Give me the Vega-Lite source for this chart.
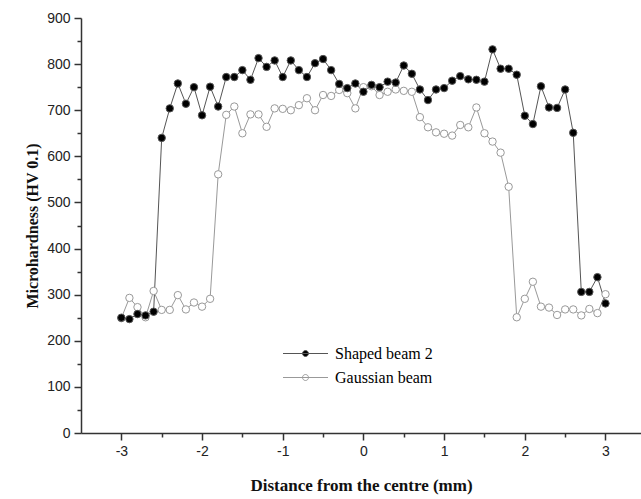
{
  "$schema": "https://vega.github.io/schema/vega-lite/v6.json",
  "width": 560,
  "height": 415,
  "autosize": "none",
  "padding": {"left": 81, "top": 18, "right": 0, "bottom": 66},
  "background": "white",
  "config": {
    "view": {"stroke": null},
    "axis": {
      "grid": false,
      "domainColor": "#333333",
      "domainWidth": 1.5,
      "tickColor": "#333333",
      "tickWidth": 1.5,
      "labelFont": "Liberation Sans",
      "labelFontSize": 14,
      "labelColor": "#222222",
      "titleFont": "Liberation Serif",
      "titleFontWeight": "bold",
      "titleColor": "#111111"
    },
    "legend": {
      "orient": "none",
      "legendX": 214,
      "legendY": 325,
      "padding": 0,
      "symbolType": "M-2.25,0L2.25,0M0.3,0A0.3,0.3,0,1,1,-0.3,0A0.3,0.3,0,1,1,0.3,0Z",
      "symbolSize": 400,
      "symbolStrokeWidth": 1,
      "labelFont": "Liberation Serif",
      "labelFontSize": 16,
      "labelColor": "#000000",
      "labelOffset": 19,
      "rowPadding": 5
    }
  },
  "data": {
    "values": [
      {"series": "Gaussian beam", "x": -3.0, "hv": 249},
      {"series": "Gaussian beam", "x": -2.9, "hv": 293},
      {"series": "Gaussian beam", "x": -2.8, "hv": 273},
      {"series": "Gaussian beam", "x": -2.7, "hv": 251},
      {"series": "Gaussian beam", "x": -2.6, "hv": 308},
      {"series": "Gaussian beam", "x": -2.5, "hv": 267},
      {"series": "Gaussian beam", "x": -2.4, "hv": 267},
      {"series": "Gaussian beam", "x": -2.3, "hv": 299},
      {"series": "Gaussian beam", "x": -2.2, "hv": 268},
      {"series": "Gaussian beam", "x": -2.1, "hv": 283},
      {"series": "Gaussian beam", "x": -2.0, "hv": 274},
      {"series": "Gaussian beam", "x": -1.9, "hv": 291},
      {"series": "Gaussian beam", "x": -1.8, "hv": 561},
      {"series": "Gaussian beam", "x": -1.7, "hv": 690},
      {"series": "Gaussian beam", "x": -1.6, "hv": 708},
      {"series": "Gaussian beam", "x": -1.5, "hv": 650},
      {"series": "Gaussian beam", "x": -1.4, "hv": 691},
      {"series": "Gaussian beam", "x": -1.3, "hv": 691},
      {"series": "Gaussian beam", "x": -1.2, "hv": 664},
      {"series": "Gaussian beam", "x": -1.1, "hv": 704},
      {"series": "Gaussian beam", "x": -1.0, "hv": 703},
      {"series": "Gaussian beam", "x": -0.9, "hv": 700},
      {"series": "Gaussian beam", "x": -0.8, "hv": 711},
      {"series": "Gaussian beam", "x": -0.7, "hv": 726},
      {"series": "Gaussian beam", "x": -0.6, "hv": 700},
      {"series": "Gaussian beam", "x": -0.5, "hv": 733},
      {"series": "Gaussian beam", "x": -0.4, "hv": 731},
      {"series": "Gaussian beam", "x": -0.3, "hv": 744},
      {"series": "Gaussian beam", "x": -0.2, "hv": 737},
      {"series": "Gaussian beam", "x": -0.1, "hv": 704},
      {"series": "Gaussian beam", "x": 0.0, "hv": 750},
      {"series": "Gaussian beam", "x": 0.1, "hv": 752},
      {"series": "Gaussian beam", "x": 0.2, "hv": 733},
      {"series": "Gaussian beam", "x": 0.3, "hv": 740},
      {"series": "Gaussian beam", "x": 0.4, "hv": 745},
      {"series": "Gaussian beam", "x": 0.5, "hv": 742},
      {"series": "Gaussian beam", "x": 0.6, "hv": 740},
      {"series": "Gaussian beam", "x": 0.7, "hv": 685},
      {"series": "Gaussian beam", "x": 0.8, "hv": 663},
      {"series": "Gaussian beam", "x": 0.9, "hv": 652},
      {"series": "Gaussian beam", "x": 1.0, "hv": 649},
      {"series": "Gaussian beam", "x": 1.1, "hv": 645},
      {"series": "Gaussian beam", "x": 1.2, "hv": 668},
      {"series": "Gaussian beam", "x": 1.3, "hv": 663},
      {"series": "Gaussian beam", "x": 1.4, "hv": 706},
      {"series": "Gaussian beam", "x": 1.5, "hv": 650},
      {"series": "Gaussian beam", "x": 1.6, "hv": 632},
      {"series": "Gaussian beam", "x": 1.7, "hv": 608},
      {"series": "Gaussian beam", "x": 1.8, "hv": 534},
      {"series": "Gaussian beam", "x": 1.9, "hv": 251},
      {"series": "Gaussian beam", "x": 2.0, "hv": 291},
      {"series": "Gaussian beam", "x": 2.1, "hv": 328},
      {"series": "Gaussian beam", "x": 2.2, "hv": 274},
      {"series": "Gaussian beam", "x": 2.3, "hv": 272},
      {"series": "Gaussian beam", "x": 2.4, "hv": 256},
      {"series": "Gaussian beam", "x": 2.5, "hv": 268},
      {"series": "Gaussian beam", "x": 2.6, "hv": 268},
      {"series": "Gaussian beam", "x": 2.7, "hv": 255},
      {"series": "Gaussian beam", "x": 2.8, "hv": 269},
      {"series": "Gaussian beam", "x": 2.9, "hv": 260},
      {"series": "Gaussian beam", "x": 3.0, "hv": 301},
      {"series": "Shaped beam 2", "x": -3.0, "hv": 250},
      {"series": "Shaped beam 2", "x": -2.9, "hv": 247},
      {"series": "Shaped beam 2", "x": -2.8, "hv": 258},
      {"series": "Shaped beam 2", "x": -2.7, "hv": 255},
      {"series": "Shaped beam 2", "x": -2.6, "hv": 263},
      {"series": "Shaped beam 2", "x": -2.5, "hv": 640},
      {"series": "Shaped beam 2", "x": -2.4, "hv": 704},
      {"series": "Shaped beam 2", "x": -2.3, "hv": 758},
      {"series": "Shaped beam 2", "x": -2.2, "hv": 714},
      {"series": "Shaped beam 2", "x": -2.1, "hv": 750},
      {"series": "Shaped beam 2", "x": -2.0, "hv": 689},
      {"series": "Shaped beam 2", "x": -1.9, "hv": 751},
      {"series": "Shaped beam 2", "x": -1.8, "hv": 708},
      {"series": "Shaped beam 2", "x": -1.7, "hv": 772},
      {"series": "Shaped beam 2", "x": -1.6, "hv": 772},
      {"series": "Shaped beam 2", "x": -1.5, "hv": 787},
      {"series": "Shaped beam 2", "x": -1.4, "hv": 766},
      {"series": "Shaped beam 2", "x": -1.3, "hv": 813},
      {"series": "Shaped beam 2", "x": -1.2, "hv": 794},
      {"series": "Shaped beam 2", "x": -1.1, "hv": 808},
      {"series": "Shaped beam 2", "x": -1.0, "hv": 772},
      {"series": "Shaped beam 2", "x": -0.9, "hv": 808},
      {"series": "Shaped beam 2", "x": -0.8, "hv": 787},
      {"series": "Shaped beam 2", "x": -0.7, "hv": 772},
      {"series": "Shaped beam 2", "x": -0.6, "hv": 802},
      {"series": "Shaped beam 2", "x": -0.5, "hv": 811},
      {"series": "Shaped beam 2", "x": -0.4, "hv": 787},
      {"series": "Shaped beam 2", "x": -0.3, "hv": 757},
      {"series": "Shaped beam 2", "x": -0.2, "hv": 748},
      {"series": "Shaped beam 2", "x": -0.1, "hv": 758},
      {"series": "Shaped beam 2", "x": 0.0, "hv": 740},
      {"series": "Shaped beam 2", "x": 0.1, "hv": 755},
      {"series": "Shaped beam 2", "x": 0.2, "hv": 750},
      {"series": "Shaped beam 2", "x": 0.3, "hv": 762},
      {"series": "Shaped beam 2", "x": 0.4, "hv": 760},
      {"series": "Shaped beam 2", "x": 0.5, "hv": 797},
      {"series": "Shaped beam 2", "x": 0.6, "hv": 779},
      {"series": "Shaped beam 2", "x": 0.7, "hv": 745},
      {"series": "Shaped beam 2", "x": 0.8, "hv": 722},
      {"series": "Shaped beam 2", "x": 0.9, "hv": 745},
      {"series": "Shaped beam 2", "x": 1.0, "hv": 748},
      {"series": "Shaped beam 2", "x": 1.1, "hv": 764},
      {"series": "Shaped beam 2", "x": 1.2, "hv": 774},
      {"series": "Shaped beam 2", "x": 1.3, "hv": 767},
      {"series": "Shaped beam 2", "x": 1.4, "hv": 766},
      {"series": "Shaped beam 2", "x": 1.5, "hv": 762},
      {"series": "Shaped beam 2", "x": 1.6, "hv": 832},
      {"series": "Shaped beam 2", "x": 1.7, "hv": 790},
      {"series": "Shaped beam 2", "x": 1.8, "hv": 790},
      {"series": "Shaped beam 2", "x": 1.9, "hv": 777},
      {"series": "Shaped beam 2", "x": 2.0, "hv": 688},
      {"series": "Shaped beam 2", "x": 2.1, "hv": 670},
      {"series": "Shaped beam 2", "x": 2.2, "hv": 752},
      {"series": "Shaped beam 2", "x": 2.3, "hv": 706},
      {"series": "Shaped beam 2", "x": 2.4, "hv": 705},
      {"series": "Shaped beam 2", "x": 2.5, "hv": 745},
      {"series": "Shaped beam 2", "x": 2.6, "hv": 651},
      {"series": "Shaped beam 2", "x": 2.7, "hv": 306},
      {"series": "Shaped beam 2", "x": 2.8, "hv": 306},
      {"series": "Shaped beam 2", "x": 2.9, "hv": 338},
      {"series": "Shaped beam 2", "x": 3.0, "hv": 281}
    ]
  },
  "encoding": {
    "x": {
      "field": "x",
      "type": "quantitative",
      "scale": {"domain": [-3.5, 3.44], "nice": false, "zero": false},
      "axis": {
        "title": "Distance from the centre (mm)",
        "titleFontSize": 17,
        "titlePadding": 19,
        "values": [-3, -2.5, -2, -1.5, -1, -0.5, 0, 0.5, 1, 1.5, 2, 2.5, 3],
        "labelExpr": "datum.value % 1 === 0 ? ('' + datum.value) : ''",
        "tickSize": {"condition": {"test": "datum.value % 1 !== 0", "value": 4}, "value": 7},
        "labelPadding": 4
      }
    },
    "y": {
      "field": "hv",
      "type": "quantitative",
      "scale": {"domain": [0, 900], "nice": false},
      "axis": {
        "title": "Microhardness (HV 0.1)",
        "titleFontSize": 16,
        "titlePadding": 6,
        "values": [0, 50, 100, 150, 200, 250, 300, 350, 400, 450, 500, 550, 600, 650, 700, 750, 800, 850, 900],
        "labelExpr": "datum.value % 100 === 0 ? ('' + datum.value) : ''",
        "tickSize": {"condition": {"test": "datum.value % 100 !== 0", "value": 4}, "value": 7},
        "labelPadding": 4
      }
    }
  },
  "layer": [
    {
      "mark": {"type": "line", "strokeWidth": 1},
      "encoding": {
        "stroke": {
          "field": "series",
          "type": "nominal",
          "title": null,
          "scale": {"domain": ["Shaped beam 2", "Gaussian beam"], "range": ["#555555", "#999999"]}
        }
      }
    },
    {
      "mark": {"type": "point", "filled": true, "size": 55, "strokeWidth": 1, "opacity": 1},
      "encoding": {
        "fill": {
          "field": "series",
          "type": "nominal",
          "title": null,
          "scale": {"domain": ["Shaped beam 2", "Gaussian beam"], "range": ["#000000", "#ffffff"]}
        },
        "stroke": {"field": "series", "type": "nominal", "title": null}
      }
    }
  ]
}
